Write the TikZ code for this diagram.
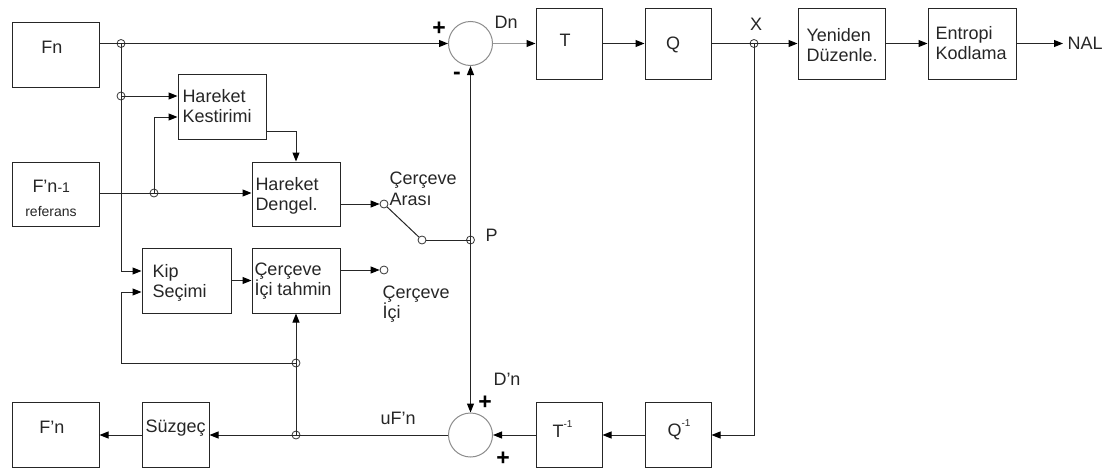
\documentclass[tikz,border=0pt]{standalone}
\usepackage{fontspec}
\setmainfont{Liberation Sans}
\usetikzlibrary{arrows.meta}
\newcommand{\mfont}{\fontsize{18}{20.5}\selectfont}
\newcommand{\smfont}{\fontsize{14}{16}\selectfont}
\newcommand{\supfont}{\fontsize{10}{10}\selectfont}
\newcommand{\sgnfont}{\fontsize{23}{23}\selectfont\bfseries}
\begin{document}
\begin{tikzpicture}[x=1pt,y=-1pt,line width=1pt]
\tikzset{
 box/.style={draw=black!85, line width=1pt, inner sep=0, rectangle},
 txt/.style={inner sep=0, font=\mfont, text=black!85, align=left},
 arr/.style={draw=black!85, -{Triangle[length=9pt,width=7pt,color=black]}},
 ln/.style={draw=black!85},
 jn/.style={circle, draw=black!80, line width=0.8pt, inner sep=0, minimum size=8pt},
 term/.style={jn, fill=white},
 sumc/.style={circle, draw=black!45, line width=1pt, inner sep=0, minimum size=44pt},
 sgn/.style={inner sep=0, font=\sgnfont, text=black},
}
\useasboundingbox (0,0) rectangle (1116,471);
% boxes
\node[box, minimum width=87, minimum height=65] (fn)  at (55.5,54.5) {};
\node[box, minimum width=87, minimum height=64] (fn1) at (55.5,194) {};
\node[box, minimum width=88, minimum height=65] (hk)  at (222,106.5) {};
\node[box, minimum width=88, minimum height=64] (hd)  at (296,194) {};
\node[box, minimum width=89, minimum height=65] (kip) at (186.5,280.5) {};
\node[box, minimum width=88, minimum height=65] (cit) at (296,280.5) {};
\node[box, minimum width=67, minimum height=65] (suz) at (175.5,435) {};
\node[box, minimum width=87, minimum height=65] (fnp) at (55.5,435) {};
\node[box, minimum width=66, minimum height=71] (T)   at (569,43.5) {};
\node[box, minimum width=66, minimum height=71] (Q)   at (678,43.5) {};
\node[box, minimum width=87, minimum height=71] (yd)  at (841.5,43.5) {};
\node[box, minimum width=88, minimum height=71] (ek)  at (972,43.5) {};
\node[box, minimum width=66, minimum height=65] (Ti)  at (569,435) {};
\node[box, minimum width=66, minimum height=65] (Qi)  at (678,435) {};
% summing junctions
\node[sumc] (s1) at (470.5,43.5) {};
\node[sumc] (s2) at (470.5,435) {};
% junction dots
\node[jn] (j1) at (121,43.5) {};
\node[jn] (j2) at (121,96) {};
\node[jn] (j3) at (154,193) {};
\node[jn] (jP) at (470.5,240) {};
\node[jn] (jX) at (754,43.5) {};
\node[jn] (j4) at (296,363) {};
\node[jn] (j5) at (296,435) {};
\node[term] (sw1) at (384,204) {};
\node[term] (sw2) at (422,240) {};
\node[term] (ci)  at (384,270) {};
\coordinate (k1) at (121,271);
\coordinate (k2) at (121,292);
\coordinate (h2) at (154,117);
\coordinate (hko) at (266,131);
% texts
\node[txt] (fnt) at (52,47) {Fn};
\node[txt, anchor=west] (fn1t) at (32,186) {F'n{\smfont -1}};
\node[txt, font=\smfont, anchor=center] (reft) at (51,212) {referans};
\node[txt, anchor=west] (hkt) at (182,106) {Hareket\\Kestirimi};
\node[txt, anchor=west] (hdt) at (255,196) {Hareket\\Dengel.};
\node[txt, anchor=west] (cat) at (389,189) {Çerçeve\\Arası};
\node[txt, anchor=west] (pt) at (485,235) {P};
\node[txt, anchor=west] (kipt) at (152,283) {Kip\\Seçimi};
\node[txt, anchor=west] (citt) at (254,281) {Çerçeve\\İçi tahmin};
\node[txt, anchor=west] (cil) at (382,304) {Çerçeve\\İçi};
\node[txt, anchor=west] (suzt) at (145,428) {Süzgeç};
\node[txt] (fnpt) at (52,427) {F'n};
\node[txt, anchor=west] (uft) at (380,418) {uF'n};
\node[txt, anchor=west] (dnpt) at (493,379) {D'n};
\node[txt, anchor=west] (dnt) at (494,22) {Dn};
\node[txt] (Tt) at (565,40) {T};
\node[txt] (Qt) at (673,45) {Q};
\node[txt] (xt) at (756,24) {X};
\node[txt, anchor=west] (ydt) at (806,45) {Yeniden\\Düzenle.};
\node[txt, anchor=west] (ekt) at (935,43) {Entropi\\Kodlama};
\node[txt, anchor=west] (nal) at (1067,43.5) {NAL};
\node[txt, anchor=west] (Tit) at (552,429) {T\raisebox{0.55em}{\supfont -1}};
\node[txt, anchor=west] (Qit) at (667,430) {Q\raisebox{0.55em}{\supfont -1}};
\node[sgn] (p1) at (439,29) {+};
\node[sgn] (m1) at (457,76) {-};
\node[sgn] (p2) at (485,403) {+};
\node[sgn] (p3) at (503,459) {+};
% connectors
\draw[arr] (fn.east |- j1.center) -- (s1.west);
\draw[arr] (j1.center) -- (k1) -- (kip.west |- k1);
\draw[arr] (j2.center) -- (hk.west |- j2.center);
\draw[arr] (fn1.east |- j3.center) -- (hd.west |- j3.center);
\draw[arr] (j3.center) -- (h2) -- (hk.west |- h2);
\draw[arr] (hk.east |- hko) -| (hd.north);
\draw[arr] (hd.east |- sw1) -- (sw1);
\draw[ln] (sw1) -- (sw2);
\draw[ln] (sw2) -- (jP.center);
\draw[arr] (jP.center) -- (s1.south);
\draw[arr] (jP.center) -- (s2.north);
\draw[arr, draw=black!40] (s1.east) -- (T.west);
\draw[arr] (T.east) -- (Q.west);
\draw[arr] (Q.east) -- (yd.west);
\draw[arr] (yd.east) -- (ek.west);
\draw[arr, shorten >=4pt] (ek.east) -- (nal.west);
\draw[arr] (jX.center) |- (Qi.east);
\draw[arr] (Qi.west) -- (Ti.east);
\draw[arr] (Ti.west) -- (s2.east);
\draw[arr] (s2.west) -- (suz.east);
\draw[arr] (suz.west) -- (fnp.east);
\draw[arr] (j5.center) -- (cit.south);
\draw[arr] (j4.center) -| (k2) -- (kip.west |- k2);
\draw[arr] (kip.east) -- (cit.west);
\draw[arr] (cit.east |- ci) -- (ci);
\end{tikzpicture}
\end{document}
